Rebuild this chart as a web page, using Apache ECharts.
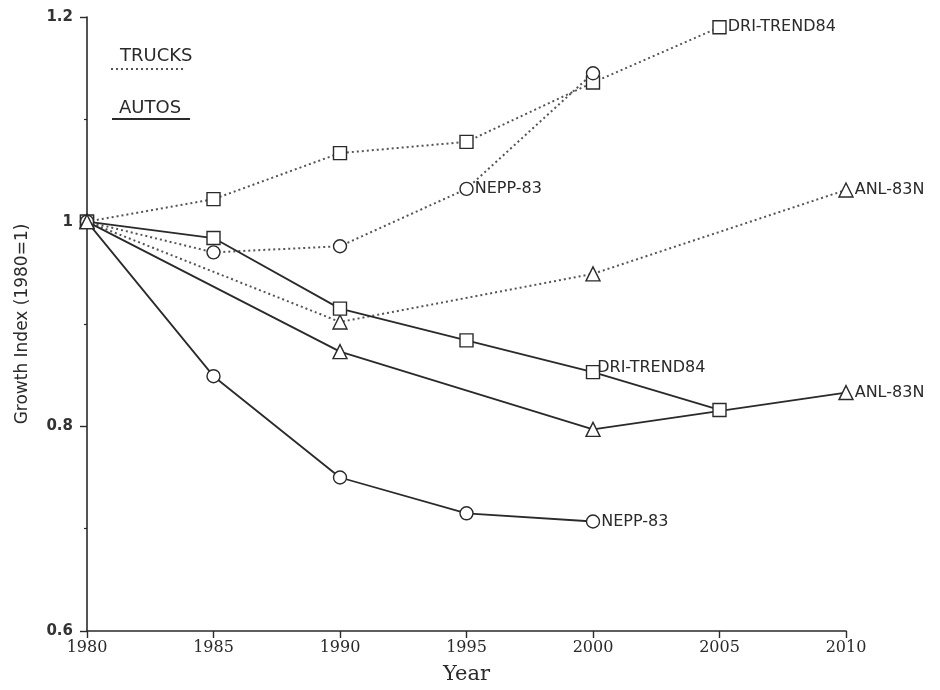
<!DOCTYPE html>
<html>
<head>
<meta charset="utf-8">
<title>Growth Index</title>
<script src="https://cdn.jsdelivr.net/npm/echarts@6/dist/echarts.min.js"></script>
<style>
  html, body { margin: 0; padding: 0; background: #fff; }
  #chart { width: 940px; height: 690px; }
</style>
</head>
<body>
<div id="chart"></div>
<script>
// Growth index forecasts (1980 = 1) for trucks and autos
const yearTicks = [1980, 1985, 1990, 1995, 2000, 2005, 2010];

// Trucks (dotted lines)
const truckDriYears = [1980, 1985, 1990, 1995, 2000, 2005];
const truckDriValues = [1.0, 1.022, 1.067, 1.078, 1.136, 1.19];
const truckNeppYears = [1980, 1985, 1990, 1995, 2000];
const truckNeppValues = [1.0, 0.970, 0.976, 1.032, 1.145];
const truckAnlYears = [1980, 1990, 2000, 2010];
const truckAnlValues = [1.0, 0.902, 0.949, 1.031];

// Autos (solid lines)
const autoDriYears = [1980, 1985, 1990, 1995, 2000, 2005];
const autoDriValues = [1.0, 0.984, 0.915, 0.884, 0.853, 0.816];
const autoAnlYears = [1980, 1990, 2000, 2010];
const autoAnlValues = [1.0, 0.873, 0.797, 0.833];
const autoNeppYears = [1980, 1985, 1990, 1995, 2000];
const autoNeppValues = [1.0, 0.849, 0.750, 0.715, 0.707];

const INK = '#2a2a2a';
const DOT = '#555';
const labelFont = { fontFamily: 'DejaVu Sans', fontSize: 16, color: INK };

function makeSeries(name, years, values, symbol, dotted, labelYear, labelOffset) {
  const data = years.map((yr, i) => {
    const item = { value: [yr, values[i]] };
    if (yr === labelYear) {
      item.label = {
        show: true,
        position: 'right',
        distance: 1,
        offset: labelOffset || [0, 0],
        formatter: name,
        ...labelFont
      };
    }
    return item;
  });
  return {
    name: name,
    type: 'line',
    data: data,
    symbol: symbol,
    symbolSize: symbol === 'triangle' ? 14 : 13,
    showAllSymbol: true,
    itemStyle: { color: '#fff', borderColor: INK, borderWidth: 1.4 },
    lineStyle: dotted
      ? { color: DOT, width: 2, type: [2, 3] }
      : { color: INK, width: 1.8, type: 'solid' },
    label: { show: false },
    emphasis: { disabled: true },
    animation: false,
    z: 2
  };
}

const series = [
  makeSeries('DRI-TREND84', truckDriYears, truckDriValues, 'rect', true, 2005),
  makeSeries('NEPP-83', truckNeppYears, truckNeppValues, 'circle', true, 1995),
  makeSeries('ANL-83N', truckAnlYears, truckAnlValues, 'triangle', true, 2010),
  makeSeries('DRI-TREND84', autoDriYears, autoDriValues, 'rect', false, 2000, [-4, -4]),
  makeSeries('NEPP-83', autoNeppYears, autoNeppValues, 'circle', false, 2000),
  makeSeries('ANL-83N', autoAnlYears, autoAnlValues, 'triangle', false, 2010)
];

const chart = echarts.init(document.getElementById('chart'), null, { renderer: 'canvas' });
chart.setOption({
  backgroundColor: '#fff',
  animation: false,
  grid: { left: 87, right: 94, top: 17, bottom: 59, containLabel: false },
  xAxis: {
    type: 'value',
    min: yearTicks[0],
    max: yearTicks[yearTicks.length - 1],
    interval: 5,
    name: 'Year',
    nameLocation: 'middle',
    nameGap: 33,
    nameTextStyle: { fontFamily: 'DejaVu Serif', fontSize: 21, color: INK },
    axisLine: { show: true, lineStyle: { color: INK, width: 1.6 } },
    axisTick: { show: true, inside: false, length: 7, lineStyle: { color: INK, width: 1.4 } },
    axisLabel: {
      fontFamily: 'DejaVu Serif', fontSize: 16, color: INK, margin: 9,
      formatter: (v) => String(v)
    },
    splitLine: { show: false }
  },
  yAxis: {
    type: 'value',
    min: 0.6,
    max: 1.2,
    interval: 0.2,
    name: 'Growth Index (1980=1)',
    nameLocation: 'middle',
    nameGap: 56,
    nameTextStyle: { fontFamily: 'DejaVu Sans', fontSize: 17, color: INK },
    axisLine: { show: true, lineStyle: { color: INK, width: 1.6 } },
    axisTick: { show: true, inside: false, length: 7, lineStyle: { color: INK, width: 1.4 } },
    minorTick: { show: true, splitNumber: 2, length: 3, lineStyle: { color: INK, width: 1.2 } },
    axisLabel: { fontFamily: 'DejaVu Sans', fontSize: 15, fontWeight: 'bold', color: '#333', margin: 14 },
    splitLine: { show: false },
    minorSplitLine: { show: false }
  },
  graphic: [
    { type: 'text', left: 120, top: 47, style: { text: 'TRUCKS', fontFamily: 'DejaVu Sans', fontSize: 18, fill: INK } },
    { type: 'line', shape: { x1: 111, y1: 69, x2: 186, y2: 69 }, style: { stroke: DOT, lineWidth: 2, lineDash: [2, 3] } },
    { type: 'text', left: 119, top: 99, style: { text: 'AUTOS', fontFamily: 'DejaVu Sans', fontSize: 18, fill: INK } },
    { type: 'line', shape: { x1: 112, y1: 119, x2: 190, y2: 119 }, style: { stroke: INK, lineWidth: 1.8 } }
  ],
  series: series
});
</script>
</body>
</html>
